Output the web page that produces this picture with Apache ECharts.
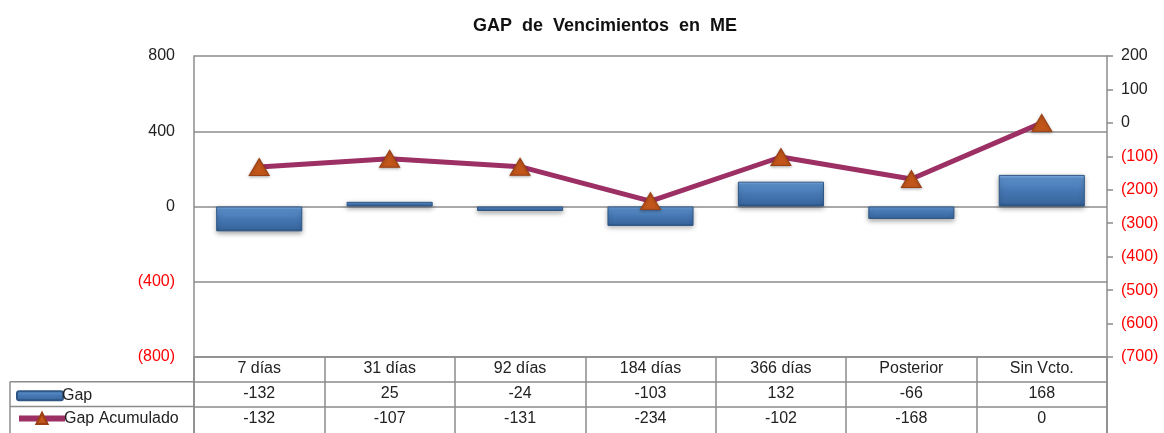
<!DOCTYPE html>
<html>
<head>
<meta charset="utf-8">
<script src="https://cdn.jsdelivr.net/npm/echarts@6/dist/echarts.min.js"></script>
<style>
html,body{margin:0;padding:0;background:#fff;}
#c{width:1164px;height:433px;}
</style>
</head>
<body>
<div id="c"></div>
<script>
const categories = ['7 días','31 días','92 días','184 días','366 días','Posterior','Sin Vcto.'];
const gap = [-132, 25, -24, -103, 132, -66, 168];
const gapAcumulado = [-132, -107, -131, -234, -102, -168, 0];
const leftTicks = {min: -800, max: 800, interval: 400};
const rightTicks = {min: -700, max: 200, interval: 100};

const FONT = 'Liberation Sans, Arial, sans-serif';
const GRID = {left: 194, right: 57, top: 56, bottom: 76};
const ROW = 24.7;
const gridColor = '#8c8c8c';
const FS = 16;
const lineColor = '#9c2f63';
const markerColor = '#c2561a';

function fmt(v){ return v < 0 ? '(' + Math.abs(v) + ')' : String(v); }
function col(v){ return v < 0 ? '#ff0000' : '#222'; }

const chart = echarts.init(document.getElementById('c'), null, {renderer:'canvas'});
const bottomY = 433 - GRID.bottom;

const legendBase = {
  orient: 'vertical', left: 11, itemWidth: 46,
  textStyle: {fontFamily: FONT, fontSize: FS, color: '#222', padding: [0,0,0,-6]}
};

const option = {
  animation: false,
  backgroundColor: '#fff',
  title: {
    text: 'GAP  de  Vencimientos  en  ME',
    left: 600, top: 12, textAlign: 'center',
    textStyle: {fontFamily: FONT, fontSize: 18, fontWeight: 'bold', color: '#111'}
  },
  legend: [
    Object.assign({}, legendBase, {top: bottomY + ROW + 1, itemHeight: 9, data: ['Gap']}),
    Object.assign({}, legendBase, {top: bottomY + ROW*2 - 1, itemHeight: 14,
      data: [{name: 'Gap Acumulado', lineStyle: {width: 6, color: lineColor}}]})
  ],
  grid: GRID,
  xAxis: [
    {
      type: 'category', data: categories, position: 'bottom',
      axisLine: {show: true, onZero: false, lineStyle: {color: gridColor, width: 1.5}},
      axisTick: {show: true, length: 77, inside: false, alignWithLabel: false, lineStyle: {color: gridColor, width: 1.5}},
      axisLabel: {fontFamily: FONT, fontSize: FS, color: '#222', margin: 4},
      splitLine: {show: false}
    },
    {
      type: 'category', data: gap.map(String), position: 'bottom', offset: ROW,
      axisLine: {show: true, onZero: false, lineStyle: {color: gridColor, width: 1.5}},
      axisTick: {show: false},
      axisLabel: {fontFamily: FONT, fontSize: FS, color: '#222', margin: 4}
    },
    {
      type: 'category', data: gapAcumulado.map(String), position: 'bottom', offset: ROW*2,
      axisLine: {show: true, onZero: false, lineStyle: {color: gridColor, width: 1.5}},
      axisTick: {show: false},
      axisLabel: {fontFamily: FONT, fontSize: FS, color: '#222', margin: 4}
    }
  ],
  yAxis: [
    {
      type: 'value', position: 'left',
      min: leftTicks.min, max: leftTicks.max, interval: leftTicks.interval,
      axisLine: {show: true, onZero: false, lineStyle: {color: gridColor, width: 1.5}},
      axisTick: {show: false},
      axisLabel: {fontFamily: FONT, fontSize: FS, margin: 19, formatter: fmt, color: col},
      splitLine: {show: true, lineStyle: {color: gridColor, width: 1.5}}
    },
    {
      type: 'value', position: 'right',
      min: rightTicks.min, max: rightTicks.max, interval: rightTicks.interval,
      axisLine: {show: true, onZero: false, lineStyle: {color: gridColor, width: 1.5}},
      axisTick: {show: true, length: 6, lineStyle: {color: gridColor, width: 1.5}},
      axisLabel: {fontFamily: FONT, fontSize: FS, margin: 14, formatter: fmt, color: col},
      splitLine: {show: false}
    }
  ],
  series: [
    {
      name: 'Gap', type: 'bar', data: gap, barWidth: '66%',
      xAxisIndex: 0, yAxisIndex: 0, z: 2,
      itemStyle: {
        color: new echarts.graphic.LinearGradient(0,0,0,1,[
          {offset:0, color:'#8ab9ec'},
          {offset:0.12, color:'#5b8fcb'},
          {offset:0.5, color:'#4677b3'},
          {offset:0.88, color:'#3a68a0'},
          {offset:1, color:'#2a527f'}
        ]),
        borderColor: '#2d5685', borderWidth: 1,
        shadowBlur: 5, shadowColor: 'rgba(0,0,0,0.35)', shadowOffsetY: 2
      }
    },
    {
      name: 'Gap Acumulado', type: 'line', data: gapAcumulado,
      xAxisIndex: 0, yAxisIndex: 1, z: 5,
      symbol: 'triangle', symbolSize: [20, 17],
      lineStyle: {color: lineColor, width: 5},
      itemStyle: {color: markerColor, borderColor: '#9a3f14', borderWidth: 1,
        shadowBlur: 3, shadowColor: 'rgba(0,0,0,0.3)', shadowOffsetY: 1},
      emphasis: {disabled: true}
    }
  ],
  graphic: [
    {type:'line', shape:{x1:10, y1:bottomY+ROW, x2:GRID.left, y2:bottomY+ROW}, style:{stroke:gridColor, lineWidth:1.5}},
    {type:'line', shape:{x1:10, y1:bottomY+ROW*2, x2:GRID.left, y2:bottomY+ROW*2}, style:{stroke:gridColor, lineWidth:1.5}},
    {type:'line', shape:{x1:10, y1:bottomY+ROW, x2:10, y2:433}, style:{stroke:gridColor, lineWidth:1.5}},
    {type:'line', shape:{x1:GRID.left, y1:bottomY, x2:GRID.left, y2:433}, style:{stroke:gridColor, lineWidth:1.5}},
    {type:'line', shape:{x1:1164-GRID.right, y1:bottomY, x2:1164-GRID.right, y2:433}, style:{stroke:gridColor, lineWidth:1.5}}
  ]
};
chart.setOption(option);
</script>
</body>
</html>
